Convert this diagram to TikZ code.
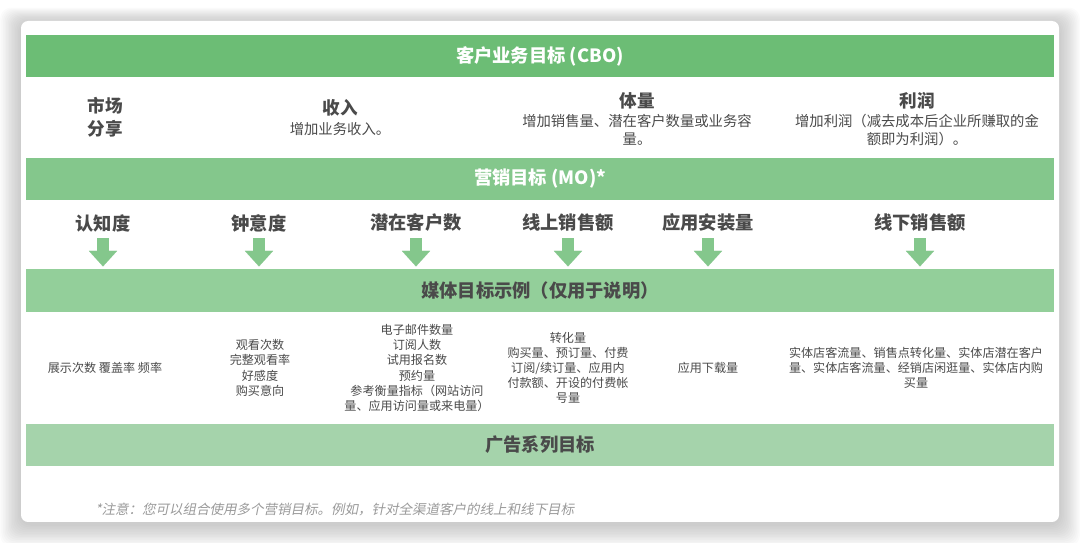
\documentclass[tikz,border=0pt]{standalone}
\usepackage{fontspec}
\setmainfont{Noto Sans CJK SC}
\newfontfamily\notefont{Noto Sans CJK SC}[FakeSlant=0.2]
\usetikzlibrary{arrows.meta,positioning}
\definecolor{cbogreen}{HTML}{6CBD75}
\definecolor{mogreen}{HTML}{84C78C}
\definecolor{mediagreen}{HTML}{93CF9A}
\definecolor{adgreen}{HTML}{A5D3AB}
\definecolor{txtgray}{HTML}{4A4A4A}
\definecolor{notegray}{HTML}{9A9A9A}
\tikzset{
    band/.style={
    rectangle,inner sep=0pt,minimum width=25.7cm,minimum height=1.05cm,
    font=\fontsize{13}{15}\selectfont\bfseries
    },
    bizgoal/.style={
    align=center,inner sep=0pt,text=txtgray,font=\fontsize{12.5}{16}\selectfont\bfseries
    },
    bizdesc/.style={
    align=center,inner sep=0pt,text=txtgray,font=\fontsize{10.2}{13}\selectfont
    },
    mktgoal/.style={
    text=txtgray,font=\fontsize{13}{15}\selectfont\bfseries
    },
    metric/.style={
    align=center,inner sep=0pt,text=txtgray,font=\fontsize{8.6}{10.8}\selectfont
    },
    note/.style={
    inner sep=0pt,text=notegray,font=\notefont\fontsize{9.6}{11}\selectfont
    },
    flow/.style={
    color=mogreen,line width=8.5pt,shorten <=1pt,shorten >=2pt,
    -{Triangle[width=20pt,length=11pt,line width=0.01pt,fill=mogreen]}
    },
}

\begin{document}
\begin{tikzpicture}[x=0.025cm, y=-0.025cm]
  \useasboundingbox (0,0) rectangle (1080,543);
  % card with soft shadow
  \foreach \s in {1,...,14}
    \fill[black,opacity=0.016,rounded corners=8pt] (21-\s*1.5,21-\s*1.1+2) rectangle (1059+\s*1.5,522+\s*1.6+2);
  \fill[white,rounded corners=5pt] (21,21) rectangle (1059,522);

  % bands
  \node[band,fill=cbogreen,text=white] (CBO) at (540,56) {客户业务目标 (CBO)};
  \node[band,fill=mogreen,text=white] (MO) at (540,179) {营销目标 (MO)*};
  \node[band,fill=mediagreen,text=txtgray] (MEDIA) at (540,290.5) {媒体目标示例（仅用于说明）};
  \node[band,fill=adgreen,text=txtgray] (CAMP) at (540,445) {广告系列目标};

  % customer business objectives
  \node[bizgoal] (SHARE) at (105,117) {市场\\分享};
  \node[bizgoal] (REV) at (340,108) {收入};
  \node[bizdesc] (REVD) at (340,129) {增加业务收入。};
  \node[bizgoal] (VOL) at (637,101) {体量};
  \node[bizdesc] (VOLD) at (637,130) {增加销售量、潜在客户数量或业务容\\量。};
  \node[bizgoal] (PROF) at (917,101) {利润};
  \node[bizdesc] (PROFD) at (917,130) {增加利润（减去成本后企业所赚取的金\\额即为利润）。};

  % marketing objectives
  \node[mktgoal] (AWR) at (103,223) {认知度};
  \node[mktgoal] (CONS) at (259,223) {钟意度};
  \node[mktgoal] (LEAD) at (416,223) {潜在客户数};
  \node[mktgoal] (ONS) at (568,223) {线上销售额};
  \node[mktgoal] (APP) at (708,223) {应用安装量};
  \node[mktgoal] (OFFS) at (920,223) {线下销售额};

  \path[flow]
    (AWR) edge (AWR |- MEDIA.north)
    (CONS) edge (CONS |- MEDIA.north)
    (LEAD) edge (LEAD |- MEDIA.north)
    (ONS) edge (ONS |- MEDIA.north)
    (APP) edge (APP |- MEDIA.north)
    (OFFS) edge (OFFS |- MEDIA.north);

  % media metrics
  \node[metric] (AWRM) at (105,368) {展示次数 覆盖率 频率};
  \node[metric] (CONSM) at (260,368) {观看次数\\完整观看率\\好感度\\购买意向};
  \node[metric] (LEADM) at (417,368) {电子邮件数量\\订阅人数\\试用报名数\\预约量\\参考衡量指标（网站访问\\量、应用访问量或来电量）};
  \node[metric] (ONSM) at (568,368) {转化量\\购买量、预订量、付费\\订阅/续订量、应用内\\付款额、开设的付费帐\\号量};
  \node[metric] (APPM) at (708,368) {应用下载量};
  \node[metric] (OFFSM) at (916,368) {实体店客流量、销售点转化量、实体店潜在客户\\量、实体店客流量、经销店闲逛量、实体店内购\\买量};

  % footnote
  \node[note,anchor=west] (NOTE) at (95,509) {*注意：您可以组合使用多个营销目标。例如，针对全渠道客户的线上和线下目标};
\end{tikzpicture}
\end{document}
